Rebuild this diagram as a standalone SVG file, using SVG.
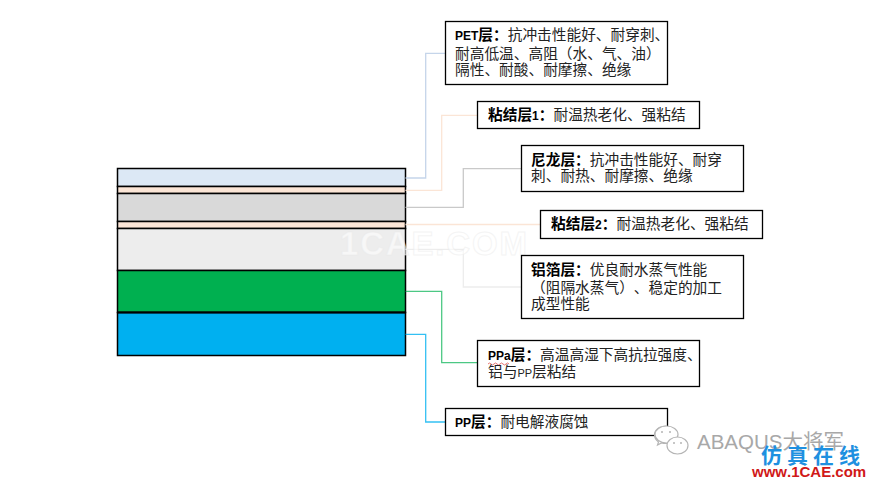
<svg xmlns="http://www.w3.org/2000/svg" width="871" height="482" viewBox="0 0 871 482">
<style>
.layer{stroke:#000;stroke-width:1.5}
.box{fill:#fff;stroke:#000;stroke-width:1.3}
.c{fill:none;stroke-width:1.3}
text{font-family:"Noto Sans CJK SC","Liberation Sans",sans-serif;font-size:14.7px;fill:#222;text-spacing-trim:space-all;font-kerning:none}
.b{font-weight:700;fill:#000}
.l{font-family:"Liberation Sans",sans-serif;font-size:12px;font-weight:700;fill:#000}
.s{font-family:"Liberation Sans",sans-serif;font-size:11px}
.logo{fill:#fff;stroke:#b5b5b5;stroke-width:1.2}
</style>
<rect width="871" height="482" fill="#fff"/>
<g id="layers">
<rect class="layer" x="117.5" y="168.5" width="288" height="18" fill="#dce8f5"/>
<rect class="layer" x="117.5" y="186.5" width="288" height="7" fill="#fbe5d6"/>
<rect class="layer" x="117.5" y="193.5" width="288" height="28" fill="#d9d9d9"/>
<rect class="layer" x="117.5" y="221.5" width="288" height="7" fill="#fbe5d6"/>
<rect class="layer" x="117.5" y="228.5" width="288" height="42" fill="#ededed"/>
<rect class="layer" x="117.5" y="270.5" width="288" height="42" fill="#00b050"/>
<rect class="layer" x="117.5" y="312.5" width="288" height="43" fill="#00b0f0"/>
<rect x="117" y="311.5" width="289" height="2" fill="#000"/>
</g>
<g id="connectors">
<path class="c" stroke="#c5d5ea" d="M405.5 178H425.7V53.3H445.5"/>
<path class="c" stroke="#fbe5d6" d="M405.5 190.3H441.7V115.3H477.5"/>
<path class="c" stroke="#c9c9c9" d="M405.5 207.3H463.3V168.7H521.5"/>
<path class="c" stroke="#fbe5d6" d="M405.5 224.5H540.5"/>
<path class="c" stroke="#ededed" d="M405.5 249.3H463.3V287H521.5"/>
<path class="c" stroke="#00b050" d="M405.5 291.3H441.7V362.7H477.5" stroke-opacity=".7"/>
<path class="c" stroke="#00b0f0" d="M405.5 334.3H425.7V422H445.5" stroke-opacity=".8"/>
</g>
<g id="watermark-center">
<text x="340" y="255" textLength="187" lengthAdjust="spacing" style="font-family:'Liberation Sans',sans-serif;font-size:33px;font-weight:700;fill:#fff;fill-opacity:.6;stroke:#e9e9e9;stroke-opacity:.5;stroke-width:1">1CAE.COM</text>
</g>
<g id="node-pet">
<rect class="box" x="445.5" y="21.5" width="222" height="63"/>
<text x="455" y="40"><tspan class="l">PET</tspan><tspan class="b">层：</tspan>抗冲击性能好、耐穿刺、</text>
<text x="455" y="59">耐高低温、高阻（水、气、油）</text>
<text x="455" y="75">隔性、耐酸、耐摩擦、绝缘</text>
</g>
<g id="node-adhesive1">
<rect class="box" x="477.5" y="101.5" width="222" height="27"/>
<text x="488" y="120"><tspan class="b">粘结层</tspan><tspan class="l">1</tspan><tspan class="b">：</tspan>耐温热老化、强粘结</text>
</g>
<g id="node-nylon">
<rect class="box" x="521.5" y="145.5" width="222" height="46"/>
<text x="531" y="165"><tspan class="b">尼龙层：</tspan>抗冲击性能好、耐穿</text>
<text x="531" y="181">刺、耐热、耐摩擦、绝缘</text>
</g>
<g id="node-adhesive2">
<rect class="box" x="540.5" y="210.5" width="222" height="28"/>
<text x="551" y="229"><tspan class="b">粘结层</tspan><tspan class="l">2</tspan><tspan class="b">：</tspan>耐温热老化、强粘结</text>
</g>
<g id="node-foil">
<rect class="box" x="521.5" y="255.5" width="222" height="63"/>
<text x="531" y="275"><tspan class="b">铝箔层：</tspan>优良耐水蒸气性能</text>
<text x="531" y="293">（阻隔水蒸气）、稳定的加工</text>
<text x="531" y="309">成型性能</text>
</g>
<g id="node-ppa">
<rect class="box" x="477.5" y="340.5" width="222" height="46"/>
<text x="488" y="360"><tspan class="l">PPa</tspan><tspan class="b">层：</tspan>高温高湿下高抗拉强度、</text>
<path d="M488 364q1.5-2 3 0t3 0 3 0 3 0 3 0 3 0 3 0" fill="none" stroke="#e05050" stroke-width=".8"/>
<text x="488" y="377">铝与<tspan class="s">PP</tspan>层粘结</text>
</g>
<g id="node-pp">
<rect class="box" x="445.5" y="408.5" width="222" height="27"/>
<text x="455" y="427"><tspan class="l">PP</tspan><tspan class="b">层：</tspan>耐电解液腐蚀</text>
</g>
<g id="watermark-logo">
<path class="logo" d="M666 426c-7 0-11.500 4-11.500 9 0 3 1.500 5 4 7l-1 3 4-2c2 .5 3 .5 5 .5z"/>
<ellipse class="logo" cx="666.500" cy="434.500" rx="11.500" ry="8.500"/>
<circle cx="662" cy="432" r="1" fill="#b5b5b5"/><circle cx="670" cy="432" r="1" fill="#b5b5b5"/>
<ellipse class="logo" cx="677.500" cy="445.500" rx="10.500" ry="8.500"/>
<circle cx="674" cy="443" r="1" fill="#b5b5b5"/><circle cx="681" cy="443" r="1" fill="#b5b5b5"/>
<text x="697" y="449" style="font-family:'Liberation Sans','Noto Sans CJK SC',sans-serif;font-size:20.500px;fill:#a8a8a8">ABAQUS大将军</text>
<text x="761" y="463" style="font-size:21px;font-weight:700;fill:#1e90e0;letter-spacing:5px">仿真在线</text>
<text x="752" y="477" style="font-family:'Liberation Sans',sans-serif;font-size:15px;font-weight:700;fill:#d01818">www.1CAE.com</text>
</g>
</svg>
